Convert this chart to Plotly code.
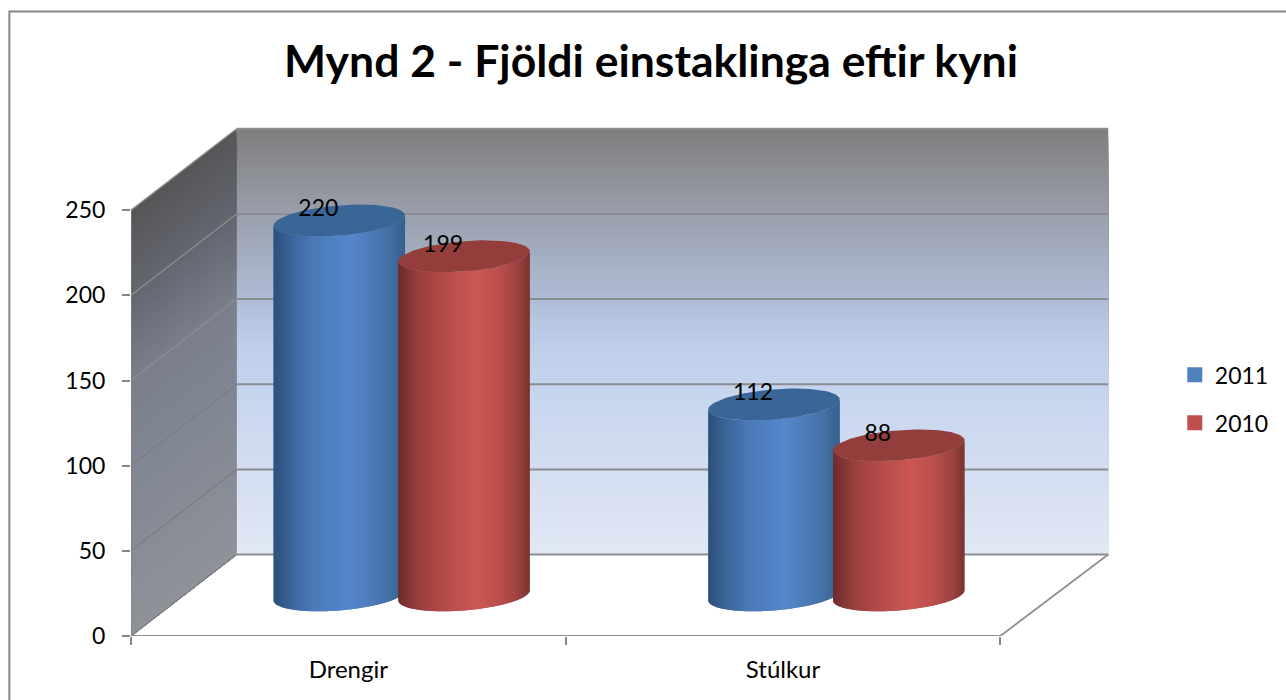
import math
import plotly.graph_objects as go

TITLE = "Mynd 2 - Fjöldi einstaklinga eftir kyni"
CATEGORIES = ["Drengir", "Stúlkur"]
SERIES_2011 = [220, 112]
SERIES_2010 = [199, 88]
Y_TICKS = [0, 50, 100, 150, 200, 250]

FONT = "Lato"
W, H = 1286, 700
ML, MR, MT, MB = 131, 171, 121.5, 64
PX_PER_CAT = 436.0
PX_PER_VAL = 1.705
PW, PH = W - ML - MR, H - MT - MB
DX, DY = 106 / PX_PER_CAT, 81.5 / PX_PER_VAL  # wall depth in axis units
WALL_W = 2.005
TOPV = Y_TICKS[-1]

def lerp_stops(stops, f):
    for (a, ca), (b, cb) in zip(stops, stops[1:]):
        if f <= b:
            g = (f - a) / (b - a) if b > a else 0
            return "rgb(%d,%d,%d)" % tuple(round(p + (q - p) * g) for p, q in zip(ca, cb))
    return "rgb(%d,%d,%d)" % stops[-1][1]

BACK = [(0, (226, 232, 245)), (0.2, (212, 222, 241)), (0.4, (197, 212, 238)), (0.5, (190, 206, 234)), (0.6, (176, 189, 216)),
        (0.8, (154, 160, 173)), (1, (127, 127, 127))]
SIDE = [(0, (143, 146, 152)), (0.4, (128, 134, 147)), (0.6, (122, 127, 139)), (0.8, (100, 103, 112)), (1, (86, 86, 88))]
BLUE = [(0, (46, 79, 122)), (0.08, (54, 92, 140)), (0.16, (62, 104, 159)), (0.3, (74, 121, 183)), (0.58, (84, 135, 203)),
        (0.72, (78, 125, 188)), (0.88, (68, 112, 165)), (1, (56, 94, 142))]
RED = [(0, (110, 43, 43)), (0.08, (132, 54, 53)), (0.16, (154, 63, 62)), (0.4, (184, 79, 76)), (0.6, (204, 87, 83)),
       (0.75, (188, 80, 77)), (0.9, (160, 68, 66)), (1, (122, 50, 48))]
TOP_BLUE, TOP_RED = "#3a6597", "#943e3b"
LINE = "#8a8a8a"

shapes = []
N = 90
# back wall and side wall gradients, painted top-down
for i in range(N):
    f = 1 - i / N
    v = TOPV * f
    shapes.append(dict(type="rect", layer="below", xref="x", yref="y", x0=DX, x1=DX + WALL_W,
                       y0=DY, y1=DY + v, fillcolor=lerp_stops(BACK, f), line_width=0))
    shapes.append(dict(type="path", layer="below", xref="x", yref="y",
                       path=f"M 0 0 L 0 {v} L {DX} {v + DY} L {DX} {DY} Z",
                       fillcolor=lerp_stops(SIDE, f), line_width=0))

def seg(x0, y0, x1, y1, color=LINE, width=1.6):
    shapes.append(dict(type="line", layer="below", xref="x", yref="y", x0=x0, y0=y0, x1=x1, y1=y1,
                       line=dict(color=color, width=width)))

for v in Y_TICKS:
    seg(DX, DY + v, DX + WALL_W, DY + v, "#8b8d92", 2)
    seg(0, v, DX, DY + v, "#8e8e8e" if v > 100 else "#7b7d80", 1.3)
seg(0, 0, 2, 0, "#8f8f8f", 2)
seg(2, 0, 2 + DX + 0.005, DY, "#8f8f8f", 1.8)
seg(0, 0, 0, TOPV, "#808080", 1.2)

def px_x(p):
    return (p - ML) / PW
def px_y(p):
    return 1 - (p - MT) / PH
BC = "#868686"
shapes.append(dict(type="line", xref="paper", yref="paper", x0=px_x(9), x1=px_x(9), y0=px_y(10), y1=px_y(H + 5), line=dict(color=BC, width=2)))
shapes.append(dict(type="line", xref="paper", yref="paper", x0=px_x(9), x1=px_x(W + 5), y0=px_y(11), y1=px_y(11), line=dict(color=BC, width=2)))

fig = go.Figure()

A = 62.5 / PX_PER_CAT
SX = 21 / PX_PER_CAT
SY = 16 / PX_PER_VAL
MIDX, MIDY = (DX + 1 / PX_PER_CAT) / 2, DY / 2
OFFSET = 0.1435

def cylinder(c, value, stops, top):
    cx = c + MIDX
    t0 = math.atan2(SX, A)
    M = 64
    ts = [t0 + math.pi + math.pi * i / M for i in range(M + 1)]
    px = lambda t: cx + A * math.cos(t) + SX * math.sin(t)
    py = lambda t, h: MIDY + h + SY * math.sin(t)
    xl, xr = px(ts[0]), px(ts[-1])
    for i in range(M):
        part = ts[i:min(i + 3, M + 1)]
        xs = [px(t) for t in part] + [px(t) for t in reversed(part)]
        ys = [py(t, 0) for t in part] + [py(t, value) for t in reversed(part)]
        f = (px(ts[i]) + px(ts[i + 1])) / 2
        f = (f - xl) / (xr - xl)
        fig.add_trace(go.Scatter(x=xs + xs[:1], y=ys + ys[:1], mode="lines", fill="toself", line_width=0,
                                 fillcolor=lerp_stops(stops, f), showlegend=False, hoverinfo="skip"))
    e = [2 * math.pi * i / 96 for i in range(97)]
    fig.add_trace(go.Scatter(x=[px(t) for t in e], y=[py(t, value) for t in e], mode="lines", fill="toself",
                             line_width=0, fillcolor=top, showlegend=False, hoverinfo="skip"))

for i, _ in enumerate(CATEGORIES):
    cylinder(i + 0.5 - OFFSET, SERIES_2011[i], BLUE, TOP_BLUE)
    cylinder(i + 0.5 + OFFSET, SERIES_2010[i], RED, TOP_RED)

LX, LY = -21 / PX_PER_CAT, 10.5 / PX_PER_VAL
label_x, label_y, label_t = [], [], []
for i, _ in enumerate(CATEGORIES):
    for off, vals in ((-OFFSET, SERIES_2011), (OFFSET, SERIES_2010)):
        label_x.append(i + 0.5 + off + MIDX + LX)
        label_y.append(vals[i] + MIDY + LY)
        label_t.append(str(vals[i]))
fig.add_trace(go.Scatter(x=label_x, y=label_y, text=label_t, mode="text", textposition="middle center",
                         textfont=dict(family=FONT, size=23, color="black"), showlegend=False, hoverinfo="skip"))

for name, color in (("2011", "#4f81bd"), ("2010", "#c0504d")):
    fig.add_trace(go.Scatter(x=[None], y=[None], mode="markers", name=name, legendgroup=name,
                             marker=dict(symbol="square", size=15, color=color)))

fig.update_layout(
    width=W, height=H, autosize=False, showlegend=True,
    margin=dict(l=ML, r=MR, t=MT, b=MB, pad=0),
    paper_bgcolor="white", plot_bgcolor="white",
    font=dict(family=FONT, size=23, color="black"),
    title=dict(text=TITLE, font=dict(family=FONT, size=44.5, weight="bold", color="black"),
               x=651 / W, xanchor="center", y=1 - 61 / H, yanchor="middle", xref="container", yref="container"),
    shapes=shapes,
    legend=dict(x=px_x(1178), xanchor="left", y=px_y(353), yanchor="top", tracegroupgap=15,
                bgcolor="rgba(0,0,0,0)", font=dict(family=FONT, size=23, color="black")),
    xaxis=dict(range=[0, PW / PX_PER_CAT], tickmode="array", tickvals=[0.5, 1.5], ticktext=CATEGORIES,
               ticks="", showgrid=False, zeroline=False, showline=False, ticklabelstandoff=17,
               minor=dict(tickmode="array", tickvals=[0, 1, 2], ticks="outside", ticklen=8, tickwidth=1.5,
                          tickcolor="#868686", showgrid=False),
               tickfont=dict(family=FONT, size=24, color="black")),
    yaxis=dict(range=[0, PH / PX_PER_VAL], tickmode="array", tickvals=Y_TICKS, ticks="outside", ticklen=8,
               tickwidth=1.5, tickcolor="#868686", showgrid=False, zeroline=False, showline=False,
               ticklabelstandoff=12, tickfont=dict(family=FONT, size=23, color="black")),
)

fig.write_html("out.html", config=dict(displayModeBar=False),
               post_script=("var s=document.createElement('style');"
                            "s.textContent='html,body{margin:0;padding:0;width:1286px;height:700px;overflow:hidden}"
                            "div{line-height:0}';document.head.appendChild(s);"))
